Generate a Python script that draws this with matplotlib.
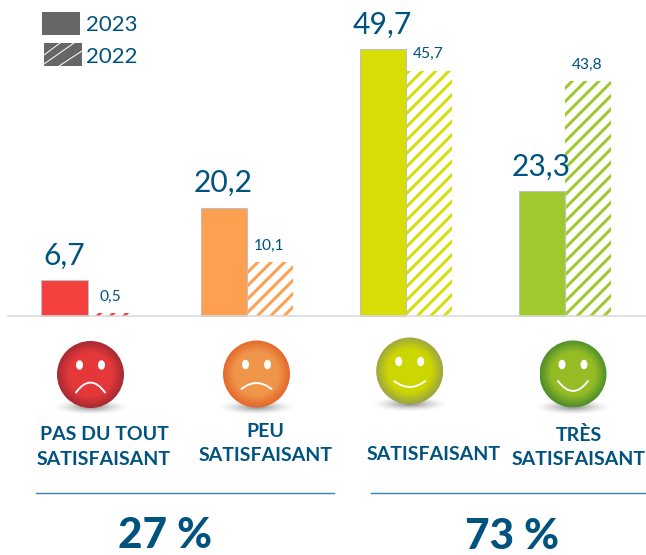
import numpy as np
import matplotlib
matplotlib.use('Agg')
import matplotlib.pyplot as plt
from matplotlib.patches import Circle, Ellipse, PathPatch, Rectangle
from matplotlib.path import Path

categories = ['PAS DU TOUT\nSATISFAISANT', 'PEU\nSATISFAISANT', 'SATISFAISANT', 'TRÈS\nSATISFAISANT']
values_2023 = [6.7, 20.2, 49.7, 23.3]
values_2022 = [0.5, 10.1, 45.7, 43.8]
labels_2023 = ['6,7', '20,2', '49,7', '23,3']
labels_2022 = ['0,5', '10,1', '45,7', '43,8']
bar_colors = ['#F54040', '#FFA050', '#D6DE05', '#A0C92D']
totals = ['27 %', '73 %']

W, H = 646, 555
DPI = 80
BLUE = '#00527F'

plt.rcParams['font.family'] = ['Lato', 'DejaVu Sans']
plt.rcParams['hatch.linewidth'] = 2.7

fig = plt.figure(figsize=(W / DPI, H / DPI), dpi=DPI, facecolor='white')

# bars
base_y = 316
ax = fig.add_axes([0, 1 - base_y / H, 1, base_y / H])
ax.set_xlim(-87.5 / 159, (W - 87.5) / 159)
ax.set_ylim(0, base_y / 5.37)
ax.axis('off')

x = np.arange(4)
bw = 46 / 159
ax.bar(x + bw / 2, values_2022, bw, facecolor='white', edgecolor=bar_colors,
       hatch='//', linewidth=0, zorder=2)
ax.bar(x - bw / 2, values_2023, bw, color=bar_colors, edgecolor='#BFBFBF',
       linewidth=1, zorder=3, clip_on=False)
ax.plot([-79.5 / 159, (W - 87.5) / 159], [0, 0], color='#D9D9D9', lw=1.4, zorder=4, clip_on=False)

for i in range(4):
    ax.annotate(labels_2023[i], (x[i] - bw / 2, values_2023[i]), xytext=(0, 14), textcoords='offset points',
                ha='center', va='baseline', fontsize=27, color=BLUE, zorder=6)
    ax.annotate(labels_2022[i], (x[i] + bw / 2, values_2022[i]), xytext=(0, 11), textcoords='offset points',
                ha='center', va='baseline', fontsize=14, color=BLUE, zorder=6)

# everything else in pixel coordinates
ov = fig.add_axes([0, 0, 1, 1])
ov.set_xlim(0, W)
ov.set_ylim(H, 0)
ov.axis('off')
ov.patch.set_alpha(0)

# legend
ov.add_patch(Rectangle((42, 12), 38, 23, color='#666666', lw=0))
swatch = Rectangle((44, 43), 38, 23, color='#666666', lw=0)
ov.add_patch(swatch)
for x0, y0, x1, y1 in [(44, 55, 60, 43), (44, 64, 74, 43), (59, 66, 82, 51)]:
    line, = ov.plot([x0, x1], [y0, y1], color='white', lw=0.9)
    line.set_clip_path(swatch)
ov.text(86, 23, '2023', fontsize=20, color=BLUE, va='center_baseline')
ov.text(86, 55, '2022', fontsize=20, color=BLUE, va='center_baseline')

# smileys: centre x, centre y, inner colour, outer colour, mouth half width, mouth y offset, mouth height
faces = [
    (90.5, 374.5, '#E5383A', '#A62A32', 14.5, 18, -10),
    (256.5, 374, '#F0964A', '#E4682C', 15, 15, -6),
    (409.7, 371, '#CDD600', '#9DA640', 15.5, 10, 6),
    (573, 374, '#95BC25', '#4E8E2C', 15, 7, 10),
]
r = 33.5
grid = np.linspace(-1, 1, 200)
gx, gy = np.meshgrid(grid, grid)
dist = np.hypot(gx, gy)

for cx, cy, inner, outer, mw, mo, mh in faces:
    # shadow under the ball
    sx, sy = cx, cy + 33
    shadow = np.zeros((200, 200, 4))
    shadow[..., :3] = 0.4
    shadow[..., 3] = np.clip(1 - dist, 0, 1) ** 1.6 * 0.8
    ov.imshow(shadow, extent=(sx - 40, sx + 40, sy + 8, sy - 8), zorder=2, aspect='auto')
    # ball
    c0 = np.array(matplotlib.colors.to_rgb(inner))
    c1 = np.array(matplotlib.colors.to_rgb(outer))
    t = np.clip((dist - 0.65) / 0.35, 0, 1)[..., None]
    im = ov.imshow(c0 * (1 - t) + c1 * t, extent=(cx - r, cx + r, cy + r, cy - r), zorder=3, aspect='auto')
    im.set_clip_path(Circle((cx, cy), r, transform=ov.transData))
    # eyes
    for dx in (-11, 11):
        ov.add_patch(Ellipse((cx + dx, cy - 9.5), 7, 9.5, color='white', lw=0, zorder=4))
    # mouth
    my = cy + mo
    verts = [(cx - mw, my), (cx, my + 2 * mh), (cx + mw, my)]
    ov.add_patch(PathPatch(Path(verts, [Path.MOVETO, Path.CURVE3, Path.CURVE3]), fc='none',
                           ec='white', lw=1.7, zorder=4, capstyle='round'))

ov.set_xlim(0, W)
ov.set_ylim(H, 0)

# category labels
label_x = [104, 265.5, 434, 579]
label_y = [447, 443.5, 454, 447]
for lx, ly, name in zip(label_x, label_y, categories):
    ov.text(lx, ly, name, fontsize=17.5, fontweight='bold', color=BLUE, ha='center', va='center',
            linespacing=1.55, zorder=5)

# group totals
ov.plot([36, 334], [493, 493], color='#3F86AB', lw=1.3)
ov.plot([371, W], [493, 493], color='#3F86AB', lw=1.3)
ov.text(165, 548, totals[0], fontsize=38, fontweight='black', color=BLUE, ha='center', va='baseline')
ov.text(512, 549, totals[1], fontsize=38, fontweight='black', color=BLUE, ha='center', va='baseline')

fig.savefig('out.png', dpi=DPI)
